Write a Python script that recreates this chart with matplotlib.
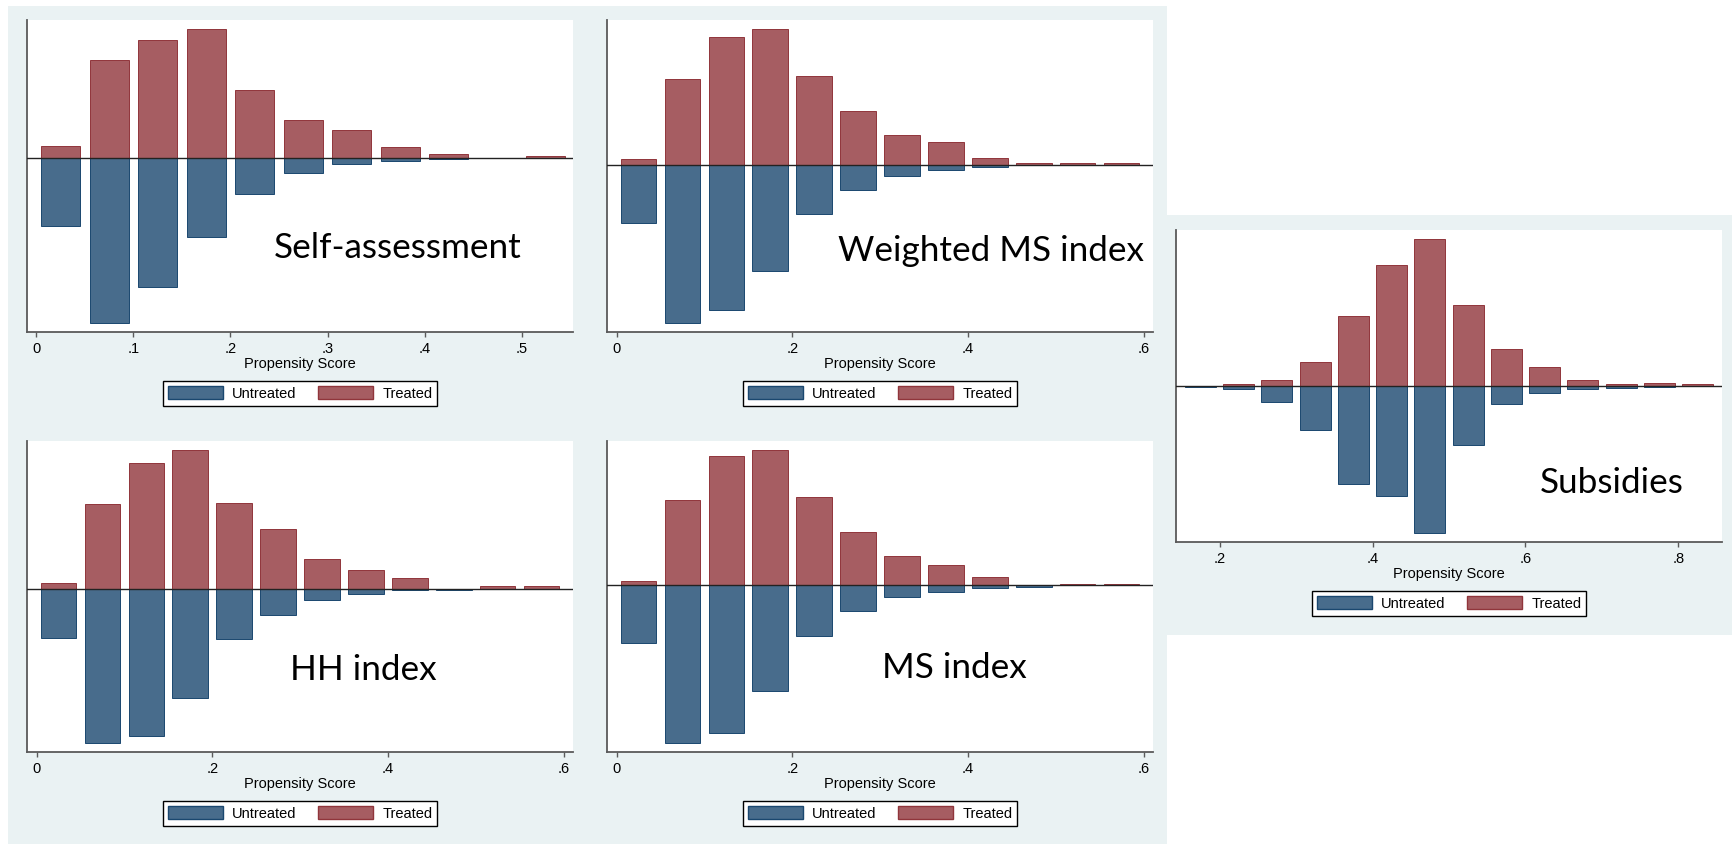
import numpy as np
import matplotlib.pyplot as plt
from matplotlib.patches import Patch, Rectangle
from matplotlib.ticker import FuncFormatter

# bin centres of the propensity score histograms
bins_11 = [0.025, 0.075, 0.125, 0.175, 0.225, 0.275, 0.325, 0.375, 0.425, 0.475, 0.525]
bins_12 = [0.025, 0.075, 0.125, 0.175, 0.225, 0.275, 0.325, 0.375, 0.425, 0.475, 0.525, 0.575]
bins_subs = [0.175, 0.225, 0.275, 0.325, 0.375, 0.425, 0.475, 0.525, 0.575,
             0.625, 0.675, 0.725, 0.775, 0.825]

# densities (treated up, untreated down)
self_treated = [0.35, 2.93, 3.53, 3.87, 2.03, 1.14, 0.84, 0.32, 0.13, 0.0, 0.06]
self_untreated = [2.03, 4.93, 3.86, 2.35, 1.06, 0.45, 0.18, 0.10, 0.02, 0.0, 0.0]

wms_treated = [0.16, 2.57, 3.81, 4.06, 2.65, 1.60, 0.89, 0.67, 0.20, 0.05, 0.05, 0.05]
wms_untreated = [1.73, 4.73, 4.33, 3.17, 1.46, 0.76, 0.34, 0.17, 0.07, 0.0, 0.0, 0.0]

hh_treated = [0.17, 2.54, 3.76, 4.16, 2.58, 1.79, 0.89, 0.57, 0.33, 0.0, 0.07, 0.07]
hh_untreated = [1.47, 4.63, 4.43, 3.28, 1.52, 0.80, 0.33, 0.16, 0.04, 0.03, 0.0, 0.0]

ms_treated = [0.14, 2.57, 3.87, 4.06, 2.65, 1.59, 0.89, 0.62, 0.24, 0.0, 0.04, 0.04]
ms_untreated = [1.73, 4.73, 4.42, 3.17, 1.52, 0.76, 0.34, 0.20, 0.08, 0.04, 0.0, 0.0]

subs_treated = [0.0, 0.05, 0.16, 0.71, 2.08, 3.61, 4.39, 2.43, 1.09, 0.56, 0.17, 0.04, 0.07, 0.05]
subs_untreated = [0.03, 0.10, 0.49, 1.31, 2.93, 3.30, 4.41, 1.78, 0.53, 0.21, 0.10, 0.06, 0.03, 0.0]

ticks_1 = [0, 0.1, 0.2, 0.3, 0.4, 0.5]
ticks_2 = [0, 0.2, 0.4, 0.6]
ticks_subs = [0.2, 0.4, 0.6, 0.8]

BG = '#eaf2f3'
BLUE, BLUE_E = '#486c8c', '#1a476f'
RED, RED_E = '#a65d62', '#90353b'

W, H = 1733, 844
fig = plt.figure(figsize=(W / 100, H / 100), dpi=100, facecolor='white')

# stata graph regions
fig.add_artist(Rectangle((8 / W, 0), (1167 - 8) / W, (844 - 6) / H, transform=fig.transFigure,
                         facecolor=BG, edgecolor='none', zorder=-10))
fig.add_artist(Rectangle((1167 / W, 1 - 635 / H), (W - 1167) / W, 420 / H, transform=fig.transFigure,
                         facecolor=BG, edgecolor='none', zorder=-10))


def fmt(v, pos):
    if abs(v) < 1e-9:
        return '0'
    return ('%g' % v).lstrip('0')


def panel(l, t, r, b, x, treated, untreated, xlim, ylim, ticks, name, tx, ty):
    ax = fig.add_axes([l / W, 1 - b / H, (r - l) / W, (b - t) / H])
    ax.set_facecolor('white')
    ax.bar(x, treated, width=0.0405, color=RED, edgecolor=RED_E, linewidth=0.7)
    ax.bar(x, -np.array(untreated), width=0.0405, color=BLUE, edgecolor=BLUE_E, linewidth=0.7)
    ax.axhline(0, color='#222222', lw=1.0, zorder=3)
    ax.set_xlim(xlim)
    ax.set_ylim(ylim)
    ax.set_yticks([])
    ax.set_xticks(ticks)
    ax.xaxis.set_major_formatter(FuncFormatter(fmt))
    for s in ['top', 'right']:
        ax.spines[s].set_visible(False)
    for s in ['left', 'bottom']:
        ax.spines[s].set_color('#5a5a5a')
        ax.spines[s].set_linewidth(1.3)
    ax.tick_params(axis='x', direction='out', length=3.6, width=1, color='#5a5a5a',
                   pad=3.5, labelsize=10.5)
    for lab in ax.get_xticklabels():
        lab.set_fontfamily('Liberation Sans')
    ax.set_xlabel('Propensity Score', fontsize=10.5, family='Liberation Sans', labelpad=0.5)
    hands = [Patch(facecolor=BLUE, edgecolor=BLUE_E, label='Untreated'),
             Patch(facecolor=RED, edgecolor=RED_E, label='Treated')]
    off = 49 / (b - t)
    leg = ax.legend(handles=hands, loc='upper center', bbox_to_anchor=(0.5, -off), ncol=2,
                    frameon=True, fancybox=False, framealpha=1, edgecolor='black',
                    prop={'family': 'Liberation Sans', 'size': 10.5},
                    handlelength=3.77, handleheight=1.03, handletextpad=0.62,
                    columnspacing=1.5, borderpad=0.35, borderaxespad=0)
    leg.get_frame().set_linewidth(1.0)
    ax.text(tx, ty, name, transform=ax.transAxes, ha='left', va='baseline',
            fontsize=25.3, family='Lato')
    return ax


panel(27, 20, 573, 332, bins_11, self_treated, self_untreated,
      (-0.0097, 0.553), (-5.20, 4.13), ticks_1, 'Self-assessment', 0.452, 0.237)
panel(607, 20, 1153, 332, bins_12, wms_treated, wms_untreated,
      (-0.0109, 0.6108), (-5.00, 4.33), ticks_2, 'Weighted MS index', 0.423, 0.228)
panel(27, 441, 573, 752, bins_12, hh_treated, hh_untreated,
      (-0.0109, 0.6108), (-4.90, 4.43), ticks_2, 'HH index', 0.4825, 0.232)
panel(607, 441, 1153, 752, bins_12, ms_treated, ms_untreated,
      (-0.0109, 0.6108), (-5.00, 4.33), ticks_2, 'MS index', 0.503, 0.238)
panel(1176, 230, 1722, 542, bins_subs, subs_treated, subs_untreated,
      (0.143, 0.857), (-4.68, 4.67), ticks_subs, 'Subsidies', 0.666, 0.157)

plt.savefig('out.png', dpi=100, facecolor='white')
